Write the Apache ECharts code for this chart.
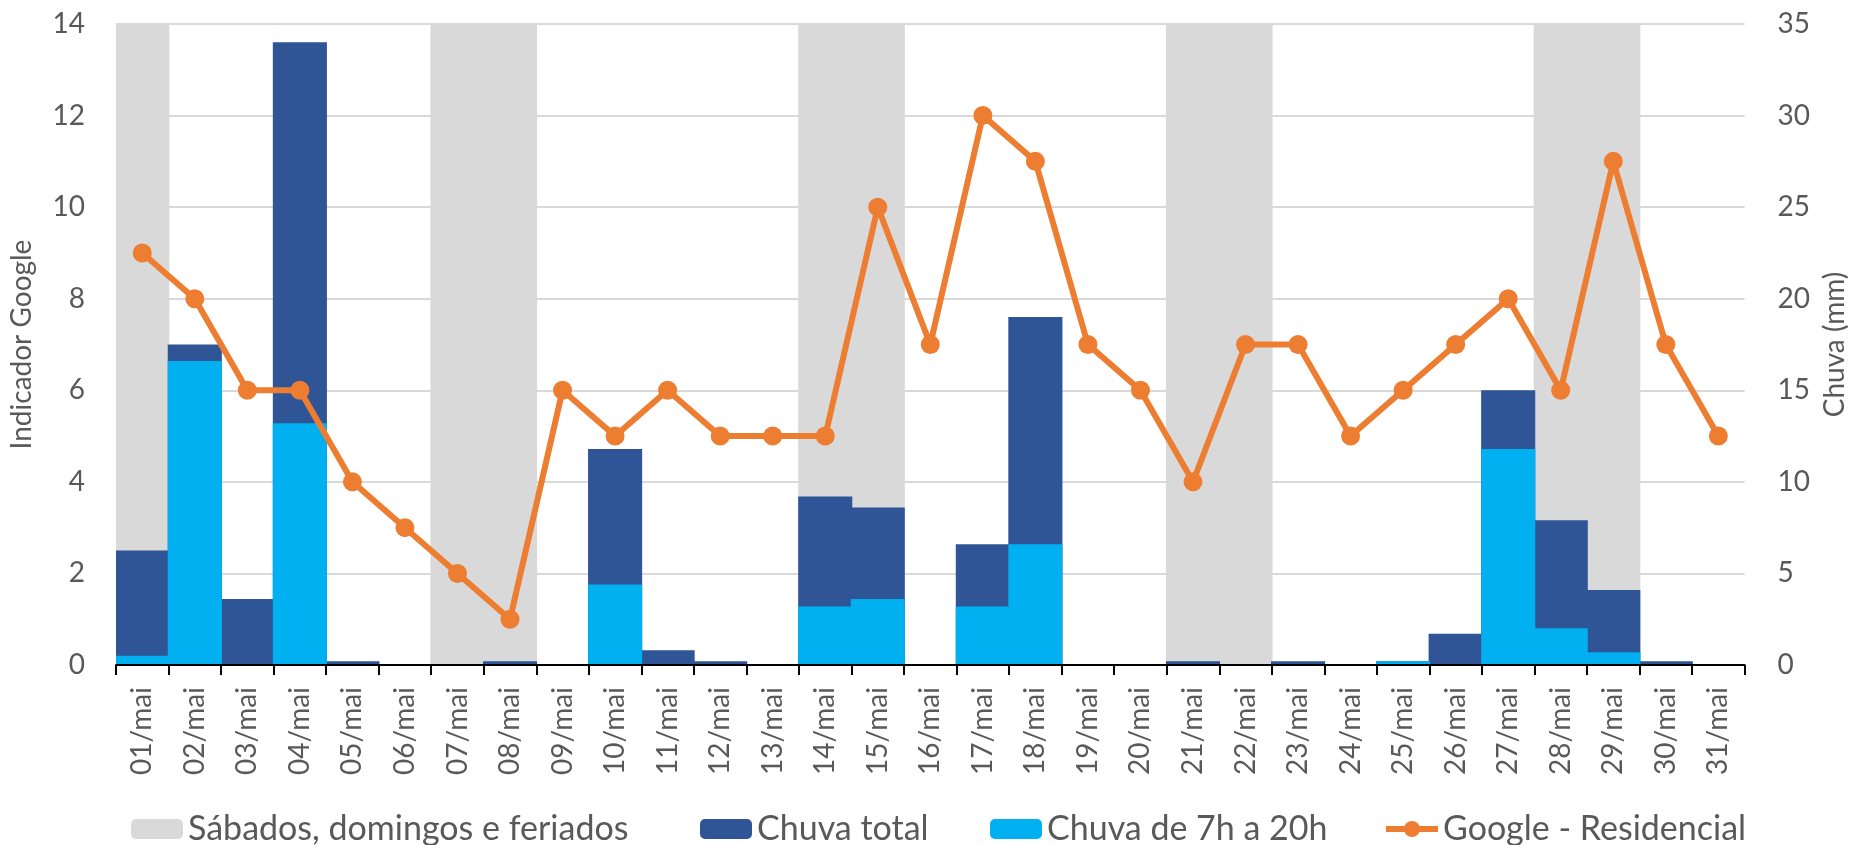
<!DOCTYPE html>
<html>
<head>
<meta charset="utf-8">
<script src="https://cdn.jsdelivr.net/npm/echarts@6/dist/echarts.min.js"></script>
<style>
  html, body { margin: 0; padding: 0; background: #fff; }
  #chart { width: 1857px; height: 845px; }
</style>
</head>
<body>
<div id="chart"></div>
<script>
// dias de maio
const dias = [
  "01/mai", "02/mai", "03/mai", "04/mai", "05/mai", "06/mai", "07/mai", "08/mai",
  "09/mai", "10/mai", "11/mai", "12/mai", "13/mai", "14/mai", "15/mai", "16/mai",
  "17/mai", "18/mai", "19/mai", "20/mai", "21/mai", "22/mai", "23/mai", "24/mai",
  "25/mai", "26/mai", "27/mai", "28/mai", "29/mai", "30/mai", "31/mai",
];
const feriados = ["01/mai", "07/mai", "08/mai", "14/mai", "15/mai", "21/mai", "22/mai", "28/mai", "29/mai"];

// chuva (mm)
const chuvaTotal = [6.25, 17.5, 3.6, 34, 0.2, 0, 0, 0.2, 0, 11.8, 0.8, 0.2, 0, 9.2, 8.6, 0,
  6.6, 19, 0, 0, 0.2, 0, 0.2, 0, 0.2, 1.7, 15, 7.9, 4.1, 0.2, 0];
const chuvaDia = [0.5, 16.6, 0, 13.2, 0, 0, 0, 0, 0, 4.4, 0, 0, 0, 3.2, 3.6, 0,
  3.2, 6.6, 0, 0, 0, 0, 0, 0, 0.2, 0, 11.8, 2, 0.7, 0, 0];

// indicador google
const googleResidencial = [9, 8, 6, 6, 4, 3, 2, 1, 6, 5, 6, 5, 5, 5, 10, 7,
  12, 11, 7, 6, 4, 7, 7, 5, 6, 7, 8, 6, 11, 7, 5];

const chuvaMax = 35;
const fonte = "Lato";
const cinzaTexto = "#595959";

const faixa = dias.map((d) => (feriados.includes(d) ? chuvaMax : "-"));

const legendBase = {
  orient: "horizontal",
  top: 804,
  itemWidth: 52,
  itemHeight: 20,
  itemGap: 0,
  lineStyle: { width: 6 },
  textStyle: { fontFamily: fonte, fontSize: 34, color: cinzaTexto, lineHeight: 40 },
};

// barras ocupando a categoria inteira, sobrepostas
function barra(nome, dados, cor, z) {
  return {
    name: nome,
    type: "bar",
    yAxisIndex: 1,
    data: dados,
    barWidth: "103%",
    barGap: "-100%",
    itemStyle: { color: cor },
    z: z,
  };
}

const option = {
  animation: false,
  backgroundColor: "#fff",
  grid: { left: 114, right: 109, top: 24, bottom: 180 },
  legend: [
    Object.assign({}, legendBase, { left: 126, data: ["Sábados, domingos e feriados"] }),
    Object.assign({}, legendBase, { left: 695, data: ["Chuva total"] }),
    Object.assign({}, legendBase, { left: 985, data: ["Chuva de 7h a 20h"] }),
    Object.assign({}, legendBase, { left: 1378, data: ["Google - Residencial"] }),
  ],
  xAxis: {
    type: "category",
    data: dias,
    axisLine: { lineStyle: { color: "#000", width: 2 } },
    axisTick: { show: true, interval: 0, length: 10, lineStyle: { color: "#000", width: 2 } },
    axisLabel: {
      interval: 0,
      rotate: 90,
      margin: 22,
      fontFamily: fonte,
      fontSize: 28,
      color: cinzaTexto,
    },
    z: 10,
  },
  yAxis: [
    {
      type: "value",
      min: 0,
      max: 14,
      interval: 2,
      name: "Indicador Google",
      nameLocation: "middle",
      nameGap: 80,
      nameTextStyle: { fontFamily: fonte, fontSize: 28, color: cinzaTexto },
      axisLine: { show: false },
      axisTick: { show: false },
      axisLabel: { margin: 31, fontFamily: fonte, fontSize: 28, color: cinzaTexto },
      splitLine: { lineStyle: { color: "#d9d9d9", width: 2 } },
    },
    {
      type: "value",
      min: 0,
      max: chuvaMax,
      interval: 5,
      name: "Chuva (mm)",
      nameLocation: "middle",
      nameGap: 72,
      nameTextStyle: { fontFamily: fonte, fontSize: 28, color: cinzaTexto },
      axisLine: { show: false },
      axisTick: { show: false },
      axisLabel: { margin: 33, fontFamily: fonte, fontSize: 28, color: cinzaTexto },
      splitLine: { show: false },
    },
  ],
  series: [
    barra("Sábados, domingos e feriados", faixa, "#d9d9d9", 1),
    barra("Chuva total", chuvaTotal, "#2f5597", 2),
    barra("Chuva de 7h a 20h", chuvaDia, "#00b0f0", 3),
    {
      name: "Google - Residencial",
      type: "line",
      yAxisIndex: 0,
      data: googleResidencial,
      symbol: "circle",
      symbolSize: 19,
      lineStyle: { color: "#ed7d31", width: 6 },
      itemStyle: { color: "#ed7d31" },
      z: 5,
    },
  ],
};

const chart = echarts.init(document.getElementById("chart"));
chart.setOption(option);
</script>
</body>
</html>
